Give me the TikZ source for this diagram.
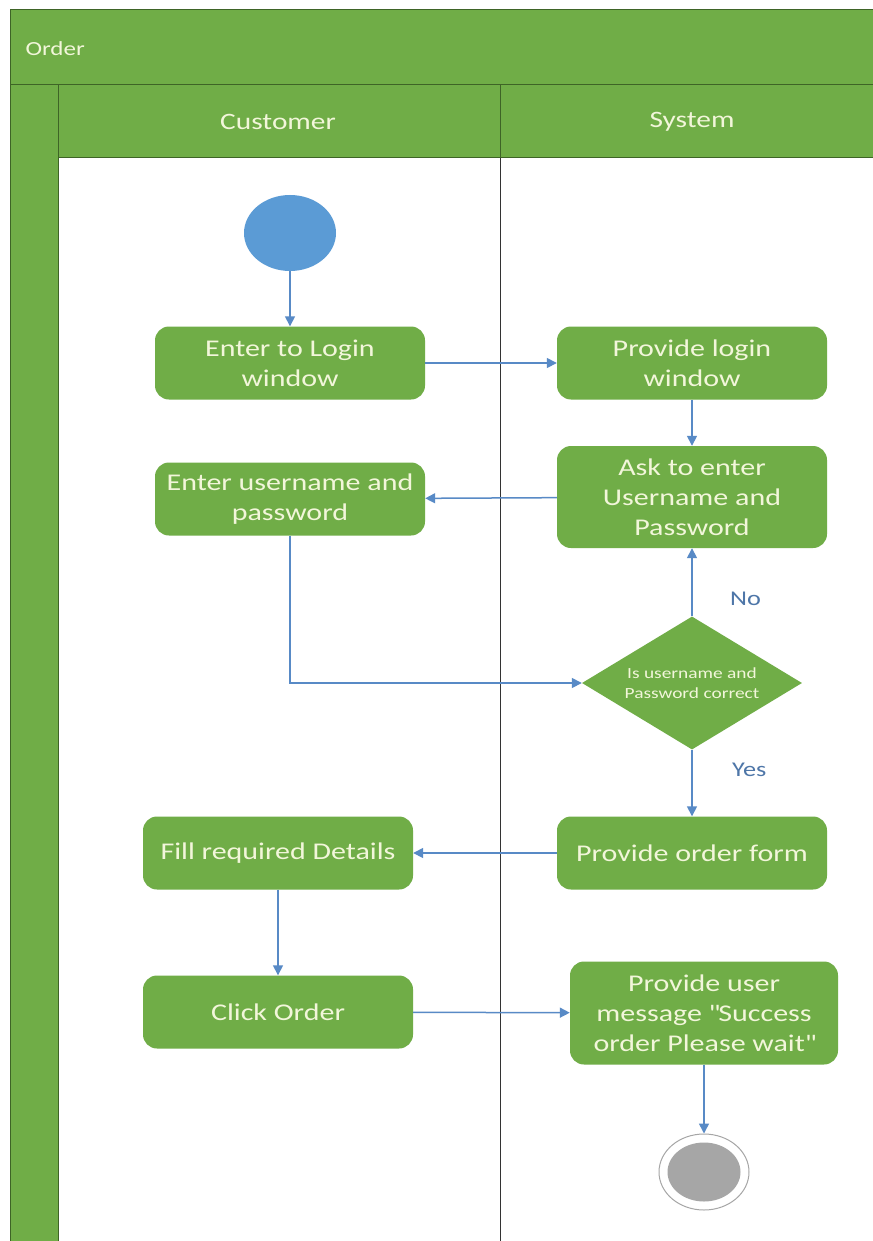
\documentclass[tikz,border=0pt]{standalone}
\usepackage{fontspec}
\setmainfont{Carlito}[FakeStretch=1.25]
\usetikzlibrary{arrows.meta,shapes.geometric}
\definecolor{laneGreen}{RGB}{112,173,71}
\definecolor{frameGreen}{RGB}{62,100,38}
\definecolor{boxText}{RGB}{242,246,218}
\definecolor{flowBlue}{RGB}{88,138,198}
\definecolor{labelBlue}{RGB}{78,118,168}
\definecolor{startBlue}{RGB}{91,155,213}
\definecolor{endGray}{RGB}{166,166,166}

\begin{document}
\begin{tikzpicture}[x=1pt,y=-1pt,
  action/.style={rectangle, rounded corners=14pt, fill=laneGreen, text=boxText,
    minimum width=270pt, minimum height=73pt, align=center, font=\fontsize{24}{30}\selectfont},
  decision/.style={diamond, fill=laneGreen, text=boxText, minimum width=220pt, minimum height=133pt,
    aspect=1.65, inner sep=0pt, align=center, font=\fontsize{15.5}{20}\selectfont},
  flow/.style={draw=flowBlue, line width=1.5pt, -{Triangle[length=10pt,width=10pt]}},
  lanehead/.style={text=boxText, font=\fontsize{23.5}{27}\selectfont},
  guard/.style={text=labelBlue, font=\fontsize{21}{25}\selectfont}]
  \useasboundingbox (0,0) rectangle (872,1241);
  \fill[white] (0,0) rectangle (872,1241);

  % swimlane frame
  \filldraw[fill=laneGreen, draw=frameGreen, line width=1pt] (10,10) rectangle (880,85);
  \filldraw[fill=laneGreen, draw=frameGreen, line width=1pt] (10,85) rectangle (58,1250);
  \filldraw[fill=laneGreen, draw=frameGreen, line width=1pt] (58,85) rectangle (500,158);
  \filldraw[fill=laneGreen, draw=frameGreen, line width=1pt] (500,85) rectangle (880,158);
  \draw[black!80, line width=1pt] (500,158) -- (500,1250);
  \node[lanehead, anchor=west, font=\fontsize{20}{24}\selectfont] (pool) at (22,49) {Order};
  \node[lanehead] (cust) at (278,122) {Customer};
  \node[lanehead] (sys) at (692,122) {System};

  % customer lane
  \node[ellipse, fill=startBlue, minimum width=92pt, minimum height=76pt] (start) at (290,233) {};
  \node[action] (login) at (290,363) {Enter to Login\\window};
  \node[action] (creds) at (290,499) {Enter username and\\password};
  \node[action] (fill) at (278,853) {Fill required Details};
  \node[action] (click) at (278,1012) {Click Order};

  % system lane
  \node[action] (window) at (692,363) {Provide login\\window};
  \node[action, minimum height=102pt] (ask) at (692,497) {Ask to enter\\Username and\\Password};
  \node[decision] (check) at (692,683) {Is username and\\Password correct};
  \node[action] (form) at (692,853) {Provide order form};
  \node[action, minimum width=268pt, minimum height=103pt] (msg) at (704,1013)
    {Provide user\\message \textquotedbl Success\\order Please wait\textquotedbl};
  \node[ellipse, draw=endGray, line width=1pt, fill=white, minimum width=90pt, minimum height=76pt] (end) at (704,1172) {};
  \node[ellipse, fill=endGray, minimum width=73pt, minimum height=59pt] (endDot) at (end) {};

  \draw[flow] (start) -- (login);
  \draw[flow] (login) -- (window);
  \draw[flow] (window) -- (ask);
  \draw[flow] (ask) -- (creds);
  \draw[flow] (creds.south) |- (check.west);
  \draw[flow] (check.north) -- (ask.south) node[guard, pos=0.25, right=34pt] {No};
  \draw[flow] (check.south) -- (form.north) node[guard, pos=0.3, right=36pt] {Yes};
  \draw[flow] (form) -- (fill);
  \draw[flow] (fill) -- (click);
  \draw[flow] (click) -- (msg);
  \draw[flow] (msg) -- (end);
\end{tikzpicture}
\end{document}
